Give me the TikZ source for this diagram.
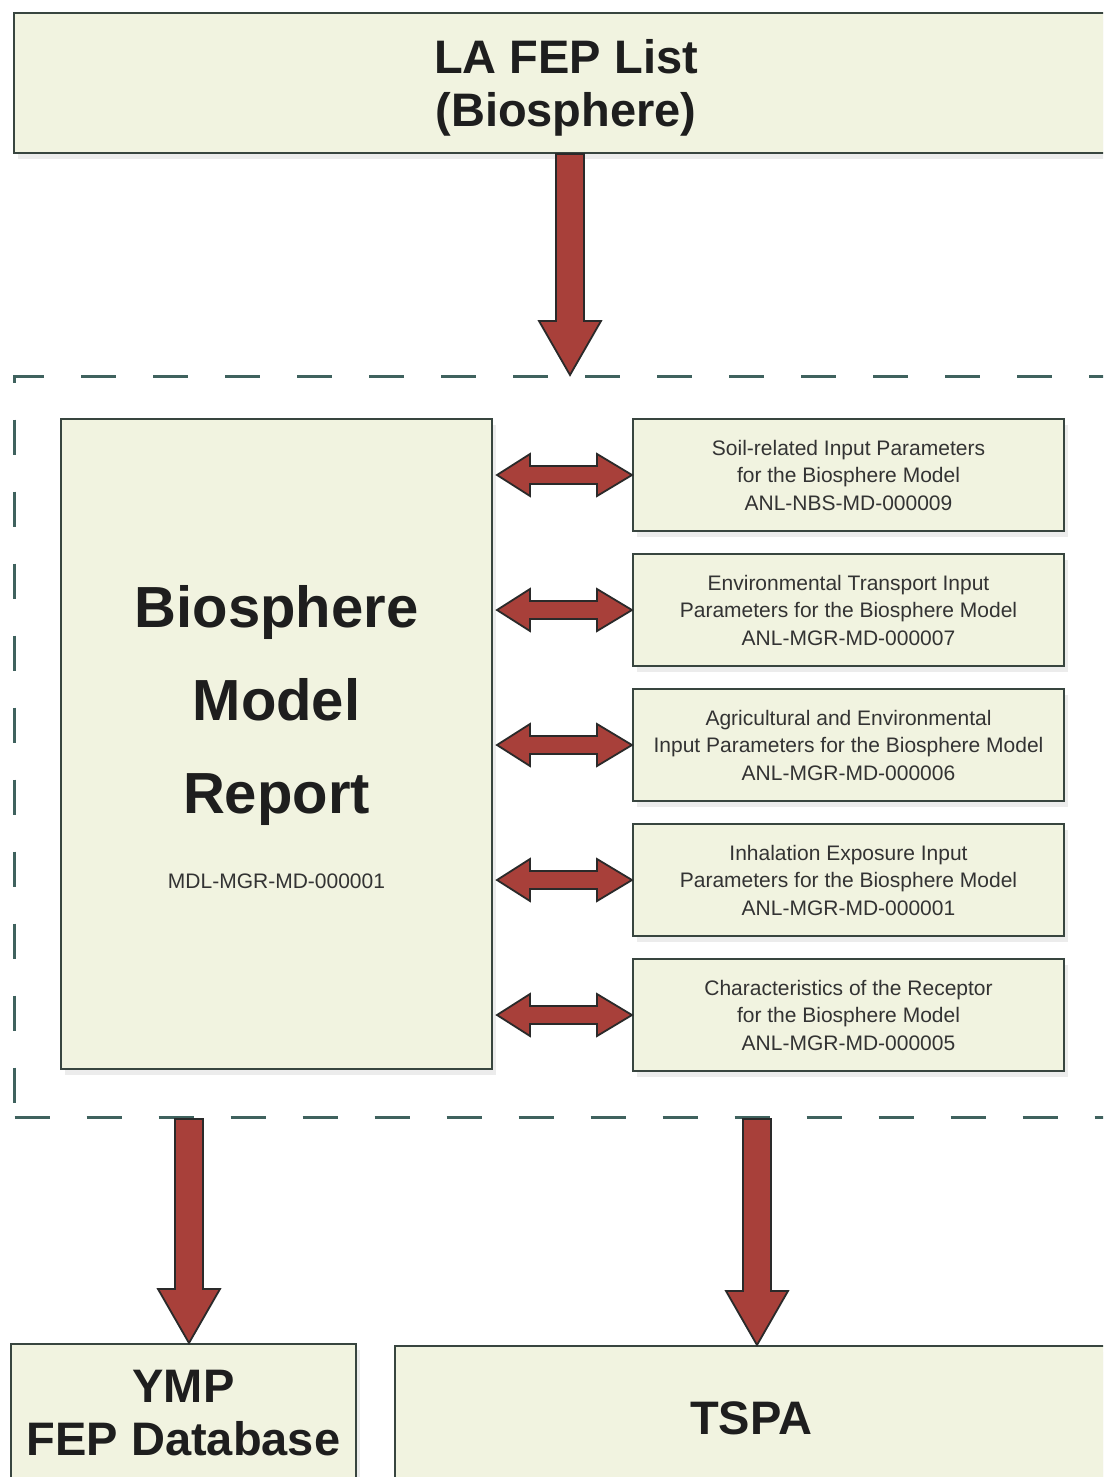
\documentclass[tikz,border=0pt]{standalone}
\usepackage{fontspec}
\setmainfont{Liberation Sans}
\usetikzlibrary{calc,shadows}
\definecolor{boxfill}{HTML}{F1F3E0}
\definecolor{boxdraw}{HTML}{38453F}
\definecolor{arrowfill}{HTML}{A8403A}
\definecolor{arrowdraw}{HTML}{2A2A2A}
\definecolor{dashcol}{HTML}{3F625E}
\definecolor{textdark}{HTML}{1E1E1E}
\definecolor{textgray}{HTML}{333333}
\tikzset{
  box/.style={draw=boxdraw, line width=1pt, fill=boxfill, rectangle, inner sep=0pt,
    anchor=north west, align=center,
    drop shadow={opacity=0.15, shadow xshift=2pt, shadow yshift=-3pt}},
  bigtext/.style={font=\bfseries\fontsize{23.5}{26.5}\selectfont, text=textdark},
  titletext/.style={font=\bfseries\fontsize{29}{46.5}\selectfont, text=textdark, align=center, inner sep=0pt},
  smalltext/.style={font=\fontsize{10.5}{13.75}\selectfont, text=textgray},
  fatarrow/.style={fill=arrowfill, draw=arrowdraw, line width=0.9pt, line join=miter},
  region/.style={draw=dashcol, line width=1.5pt, dash pattern=on 17.5pt off 18.5pt,
    rectangle, anchor=north west, inner sep=0pt},
}
\newcommand\fatdown[2]{%
  \path[fatarrow] let \p1=#1, \p2=#2 in
    (\x1-7pt,\y1) -- (\x1+7pt,\y1) -- (\x1+7pt,\y2+27pt) -- (\x1+15.5pt,\y2+27pt)
    -- (\x1,\y2) -- (\x1-15.5pt,\y2+27pt) -- (\x1-7pt,\y2+27pt) -- cycle;}
\newcommand\fatdouble[2]{%
  \path[fatarrow] let \p1=#1, \p2=#2 in
    (\x1,\y1) -- (\x1+16.5pt,\y1+10.5pt) -- (\x1+16.5pt,\y1+4.5pt)
    -- (\x2-17.5pt,\y1+4.5pt) -- (\x2-17.5pt,\y1+10.5pt) -- (\x2,\y1)
    -- (\x2-17.5pt,\y1-10.5pt) -- (\x2-17.5pt,\y1-4.5pt)
    -- (\x1+16.5pt,\y1-4.5pt) -- (\x1+16.5pt,\y1-10.5pt) -- cycle;}
\begin{document}
\begin{tikzpicture}[x=0.5pt,y=-0.5pt]
\useasboundingbox (0,0) rectangle (1103,1477);
\fill[white] (0,0) rectangle (1103,1477);
\clip (0,0) rectangle (1103,1477);

% top box
\node[box, bigtext, minimum width=552pt, minimum height=70pt] (top) at (13,12) {\rule{0pt}{22pt}LA FEP List\\(Biosphere)};

% dashed region
\node[region, minimum width=560pt, minimum height=370.5pt] (region) at (13,375) {};

% biosphere model report
\node[box, minimum width=215.5pt, minimum height=325pt] (bmr) at (60,418) {};
\node[titletext, anchor=north] (bmrtitle) at ($(bmr.north)+(0,167)$) {Biosphere\\Model\\Report};
\node[smalltext, anchor=base, inner sep=0pt] (bmrid) at ($(bmr.north)+(0,470)$) {MDL-MGR-MD-000001};

% right boxes
\node[box, smalltext, minimum width=215.5pt, minimum height=56pt] (s1) at (632,418)
  {Soil-related Input Parameters\\for the Biosphere Model\\ANL-NBS-MD-000009};
\node[box, smalltext, minimum width=215.5pt, minimum height=56pt] (s2) at (632,553)
  {Environmental Transport Input\\Parameters for the Biosphere Model\\ANL-MGR-MD-000007};
\node[box, smalltext, minimum width=215.5pt, minimum height=56pt] (s3) at (632,688)
  {Agricultural and Environmental\\Input Parameters for the Biosphere Model\\ANL-MGR-MD-000006};
\node[box, smalltext, minimum width=215.5pt, minimum height=56pt] (s4) at (632,823)
  {Inhalation Exposure Input\\Parameters for the Biosphere Model\\ANL-MGR-MD-000001};
\node[box, smalltext, minimum width=215.5pt, minimum height=56pt] (s5) at (632,958)
  {Characteristics of the Receptor\\for the Biosphere Model\\ANL-MGR-MD-000005};

% bottom boxes
\node[box, bigtext, minimum width=172.5pt, minimum height=69pt] (ymp) at (10,1343) {YMP\\FEP Database};
\node[box, bigtext, minimum width=356pt, minimum height=72pt] (tspa) at (394,1345) {TSPA};

% arrows
\coordinate (c0) at (570,0);
\coordinate (c1) at (189,0);
\coordinate (c2) at (757,0);
\fatdown{(top.south -| c0)}{(region.north -| c0)}
\fatdown{(region.south -| c1)}{(ymp.north -| c1)}
\fatdown{(region.south -| c2)}{(tspa.north -| c2)}

\fatdouble{($(s1.west -| bmr.east)+(2pt,0)$)}{(s1.west)}
\fatdouble{($(s2.west -| bmr.east)+(2pt,0)$)}{(s2.west)}
\fatdouble{($(s3.west -| bmr.east)+(2pt,0)$)}{(s3.west)}
\fatdouble{($(s4.west -| bmr.east)+(2pt,0)$)}{(s4.west)}
\fatdouble{($(s5.west -| bmr.east)+(2pt,0)$)}{(s5.west)}
\end{tikzpicture}
\end{document}
